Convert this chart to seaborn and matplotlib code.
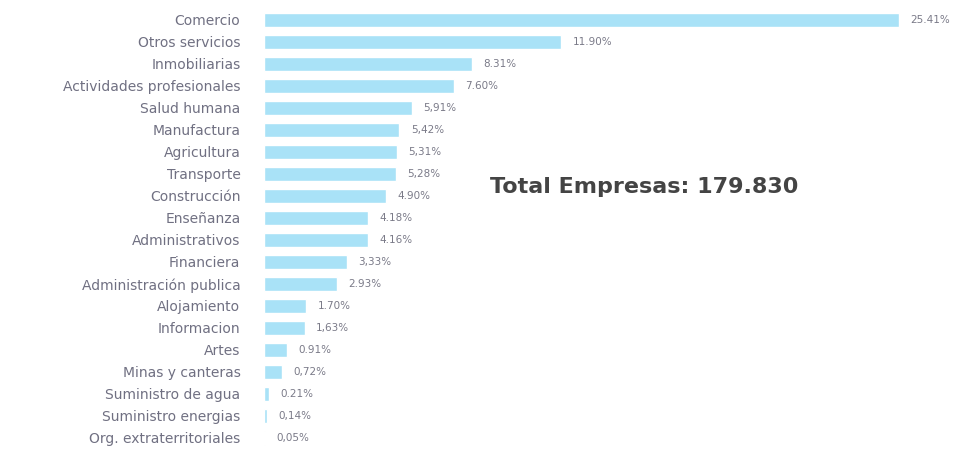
import matplotlib
matplotlib.use("Agg")
import matplotlib.pyplot as plt
import seaborn as sns
import pandas as pd

# --- data ---
sectores = ["Comercio", "Otros servicios", "Inmobiliarias", "Actividades profesionales",
            "Salud humana", "Manufactura", "Agricultura", "Transporte", "Construcción",
            "Enseñanza", "Administrativos", "Financiera", "Administración publica",
            "Alojamiento", "Informacion", "Artes", "Minas y canteras",
            "Suministro de agua", "Suministro energias", "Org. extraterritoriales"]
porcentajes = [25.41, 11.90, 8.31, 7.60, 5.91, 5.42, 5.31, 5.28, 4.90, 4.18,
               4.16, 3.33, 2.93, 1.70, 1.63, 0.91, 0.72, 0.21, 0.14, 0.05]
etiquetas = ["25.41%", "11.90%", "8.31%", "7.60%", "5,91%", "5,42%", "5,31%", "5,28%",
             "4.90%", "4.18%", "4.16%", "3,33%", "2.93%", "1.70%", "1,63%", "0.91%",
             "0,72%", "0.21%", "0,14%", "0,05%"]
total_texto = "Total Empresas: 179.830"

df = pd.DataFrame({"sector": sectores, "pct": porcentajes})

sns.set_style("white")
plt.rcParams["font.family"] = ["DejaVu Sans"]

fig = plt.figure(figsize=(9.68, 4.5), dpi=100)
ax = fig.add_axes([264 / 968, 1 - 449 / 450, 676 / 968, 440 / 450])

sns.barplot(data=df, x="pct", y="sector", hue="sector", palette=["#a9e2f7"] * len(df),
            legend=False, width=0.6, ax=ax, saturation=1)

ax.set_xlim(0, 27.05)
ax.set_ylim(19.5, -0.5)
ax.set_xlabel("")
ax.set_ylabel("")
ax.set_xticks([])
sns.despine(ax=ax, left=True, bottom=True)
ax.tick_params(axis="y", length=0, pad=17, labelsize=10, labelcolor="#707082")

# value labels next to each bar
for i, (v, t) in enumerate(zip(porcentajes, etiquetas)):
    ax.text(v + 0.45, i, t, va="center", ha="left", fontsize=7.5, color="#7a7a88")

fig.text(490 / 968, 1 - 187 / 450, total_texto, fontsize=16, fontweight="bold",
         color="#444444", va="center", ha="left")

fig.savefig("out.png", dpi=100)
